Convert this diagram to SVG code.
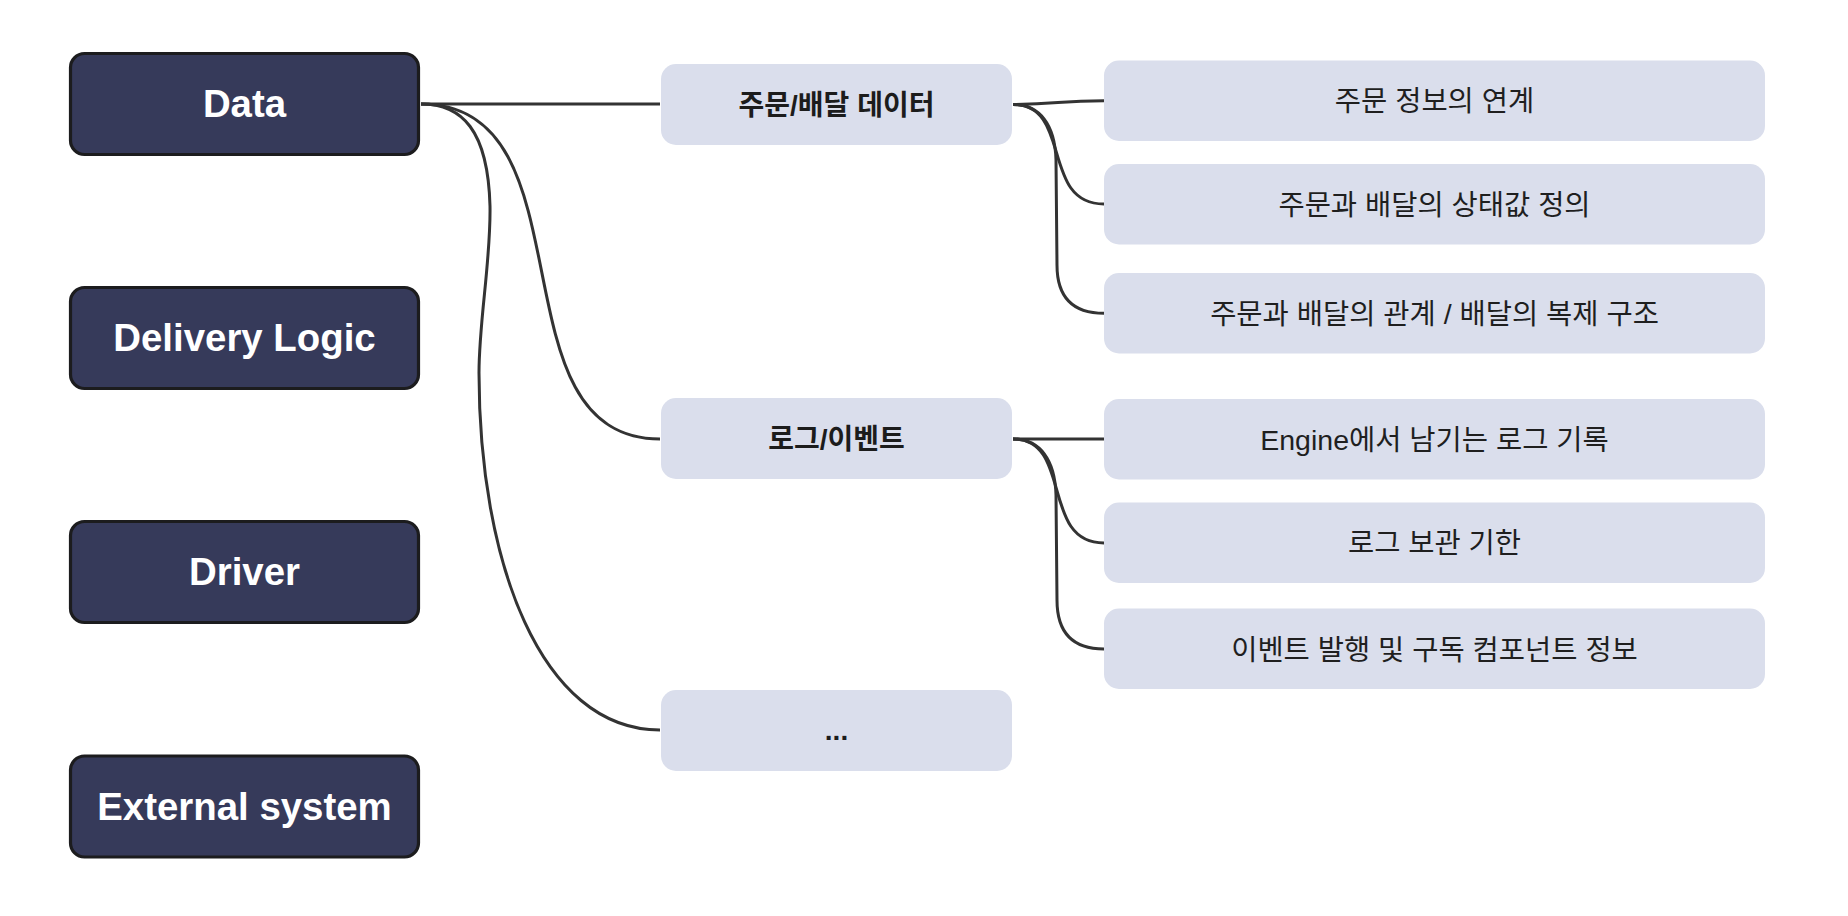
<svg xmlns="http://www.w3.org/2000/svg" width="1848" height="916" viewBox="0 0 1848 916">
<style>
.root rect{fill:#363a5a;stroke:#1c1c1e;stroke-width:3.2}
.root text{fill:#ffffff;font-family:"Liberation Sans","Noto Sans CJK KR",sans-serif;font-weight:bold;font-size:38.4px;text-anchor:middle}
.mid rect{fill:#dadeec}
.mid text{fill:#1c1c1c;font-family:"Liberation Sans","Noto Sans CJK KR",sans-serif;font-weight:bold;font-size:28px;text-anchor:middle}
.leaf rect{fill:#dadeec}
.leaf text{fill:#1f1f1f;font-family:"Liberation Sans","Noto Sans CJK KR",sans-serif;font-size:28.5px;text-anchor:middle}
.links path{fill:none;stroke:#333333;stroke-width:3}
</style>
<rect width="1848" height="916" fill="#ffffff"/>
<g class="links" id="connectors">
<path d="M421,104 L660,104"/>
<path d="M421,104 C595,104 489,439 660,439"/>
<path d="M421,104 C462,104 488,130 490,206 C491,260 479,320 479,373 C479,560 540,730 660,730"/>
<path d="M1013,104.5 C1058,104.5 1058,100.7 1104,100.7"/>
<path d="M1013,104.5 C1073,104.5 1040,204 1104,204"/>
<path d="M1013,104.5 C1040,104.5 1055,125 1056,160 L1057,265 C1057,300 1075,313.3 1104,313.3"/>
<path d="M1013,439 L1104,439"/>
<path d="M1013,439 C1073,439 1040,543 1104,543"/>
<path d="M1013,439 C1040,439 1055,460 1056,495 L1057,600 C1057,635 1075,649 1104,649"/>
</g>
<g class="root" id="node-data"><rect x="70.5" y="53.5" width="348" height="101" rx="14"/><text x="244.5" y="117">Data</text></g>
<g class="root" id="node-delivery-logic"><rect x="70.5" y="287.5" width="348" height="101" rx="14"/><text x="244.5" y="351">Delivery Logic</text></g>
<g class="root" id="node-driver"><rect x="70.5" y="521.5" width="348" height="101" rx="14"/><text x="244.5" y="585">Driver</text></g>
<g class="root" id="node-external-system"><rect x="70.5" y="756" width="348" height="101" rx="14"/><text x="244.5" y="820">External system</text></g>
<g class="mid" id="node-order-delivery-data"><rect x="661" y="64" width="351" height="81" rx="15"/><text x="836.5" y="114.8">주문/배달 데이터</text></g>
<g class="mid" id="node-log-event"><rect x="661" y="398" width="351" height="81" rx="15"/><text x="836.5" y="448.8">로그/이벤트</text></g>
<g class="mid" id="node-etc"><rect x="661" y="690" width="351" height="81" rx="15"/><text x="836.5" y="740">...</text></g>
<g class="leaf" id="node-order-link"><rect x="1104" y="60.5" width="661" height="80.5" rx="15"/><text x="1434.5" y="111.2">주문 정보의 연계</text></g>
<g class="leaf" id="node-state-def"><rect x="1104" y="164" width="661" height="80.5" rx="15"/><text x="1434.5" y="214.5">주문과 배달의 상태값 정의</text></g>
<g class="leaf" id="node-relation"><rect x="1104" y="273" width="661" height="80.5" rx="15"/><text x="1434.5" y="323.8">주문과 배달의 관계 / 배달의 복제 구조</text></g>
<g class="leaf" id="node-engine-log"><rect x="1104" y="399" width="661" height="80.5" rx="15"/><text x="1434.5" y="449.7">Engine에서 남기는 로그 기록</text></g>
<g class="leaf" id="node-log-retention"><rect x="1104" y="502.5" width="661" height="80.5" rx="15"/><text x="1434.5" y="553.3">로그 보관 기한</text></g>
<g class="leaf" id="node-event-pubsub"><rect x="1104" y="608.5" width="661" height="80.5" rx="15"/><text x="1434.5" y="659.5">이벤트 발행 및 구독 컴포넌트 정보</text></g>
</svg>
